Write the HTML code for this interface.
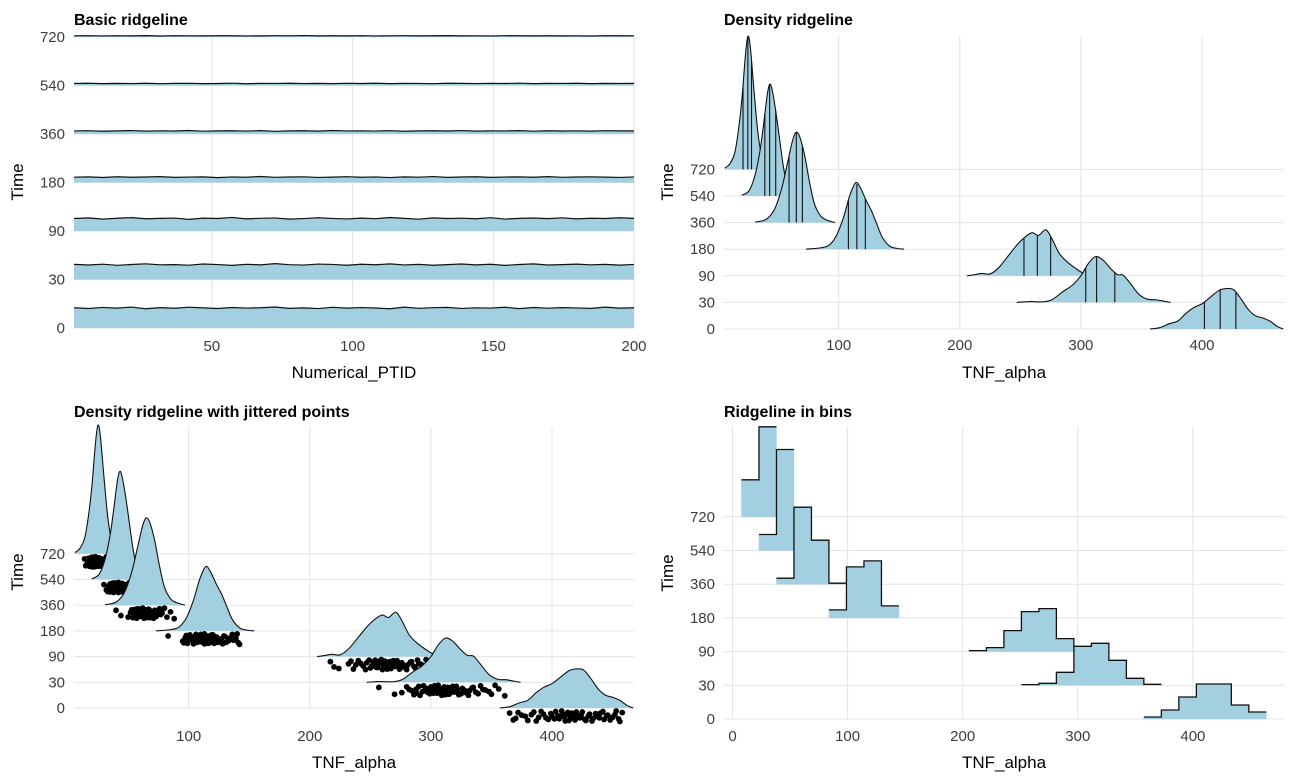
<!DOCTYPE html>
<html><head><meta charset="utf-8">
<style>
html,body{margin:0;padding:0;background:#fff;}
svg{display:block;font-family:"Liberation Sans",Arial,sans-serif;}
.tick{font-size:15px;fill:#3d3d3d;}
.ttl{font-size:16px;font-weight:bold;fill:#000;}
.axt{font-size:17px;fill:#000;}
</style></head>
<body>
<svg id="chart" width="1300" height="782" viewBox="0 0 1300 782"></svg>
<script>
// ---------- data ----------
const times = ["0","30","90","180","360","540","720"];
const ptidTicks = [50,100,150,200];
const tnfTicks = [100,200,300,400];
const tnfTicks4 = [0,100,200,300,400];
// Panel 1: TNF_alpha per patient (sampled along PTID 1..200)
const t0 = [425,410,432,418,440,405,428,415,437,422,409,431,419,426,441,412,423,408,435,417,429,420,404,438,414,427,433,411,424,419,436,407,430,416,428,421,413,439,418,425];
const t30 = [318,305,322,298,315,330,309,312,301,326,314,296,319,308,333,311,303,324,316,299,321,310,328,306,317,300,313,325,307,320,297,315,329,304,312,323,309,318,302,316];
const t90 = [262,275,250,268,281,258,266,272,245,270,263,285,255,267,274,249,261,278,264,253,271,259,283,266,248,276,262,269,257,280,251,265,273,260,277,254,268,263,279,266];
const t180 = [112,118,105,121,110,116,124,108,114,119,102,117,111,126,109,115,120,106,113,122,110,117,104,119,112,125,108,116,121,107,114,118,111,123,109,115,120,113,106,117];
const t360 = [64,70,58,66,72,61,67,63,74,59,65,69,62,71,57,66,68,60,73,64,67,62,70,58,65,69,63,72,61,66,64,71,59,68,63,67,60,70,65,66];
const t540 = [43,47,39,45,41,48,38,44,46,40,42,49,37,45,43,47,41,44,39,46,42,48,40,45,43,38,47,44,41,46,42,49,40,44,43,47,39,45,42,44];
const t720 = [25,28,22,26,24,29,21,27,25,23,28,26,22,24,27,25,30,23,26,24,28,22,25,27,23,26,29,24,25,22,27,26,23,28,24,25,21,27,26,25];
// Panels 2/3: density estimates [TNF, relative height]
const d0 = [[357,0],[365,0.05],[373,0.2],[380,0.3],[387,0.6],[393,0.8],[400,0.95],[407,1.2],[414,1.45],[420,1.52],[426,1.48],[432,1.15],[438,0.75],[444,0.5],[450,0.42],[456,0.3],[462,0.1],[467,0]];
const d30 = [[247,0],[258,0.03],[268,0.02],[276,0.1],[285,0.4],[293,0.65],[300,1.0],[306,1.45],[312,1.72],[318,1.6],[324,1.3],[330,1.05],[335,1.02],[341,0.7],[348,0.3],[355,0.12],[362,0.1],[368,0.05],[374,0]];
const d90 = [[206,0],[212,0.04],[218,0.09],[225,0.07],[232,0.3],[240,0.75],[248,1.2],[255,1.5],[260,1.62],[265,1.52],[271,1.73],[276,1.4],[282,0.85],[288,0.55],[295,0.3],[302,0.1],[310,0.02]];
const d180 = [[73,0],[85,0.05],[92,0.15],[98,0.5],[104,1.2],[109,2.0],[114,2.5],[118,2.3],[123,1.8],[127,1.45],[131,1.0],[136,0.45],[142,0.12],[148,0.03],[154,0]];
const d360 = [[31,0.02],[40,0.12],[47,0.5],[53,1.3],[58,2.3],[62,3.1],[65,3.4],[68,3.2],[72,2.5],[76,1.5],[80,0.7],[85,0.25],[90,0.1],[97,0]];
const d540 = [[20,0.03],[26,0.2],[31,0.8],[35,1.7],[38,2.7],[41,3.8],[43,4.2],[45,4.0],[48,3.2],[51,2.2],[54,1.2],[57,0.5],[61,0.15],[66,0.02]];
const d720 = [[6,0.05],[10,0.2],[14,0.6],[17,1.4],[20,2.6],[23,4.3],[25,5.0],[27,4.6],[30,3.0],[33,1.5],[36,0.6],[40,0.15],[44,0.02]];
// quartiles
const q0 = [402,415,428];
const q30 = [304,313,328];
const q90 = [253,264,275];
const q180 = [108,115,122];
const q360 = [59,65,70];
const q540 = [39,43,48];
const q720 = [21,25,28];
// Panel 3: jittered point values
const p0 = [365,370,375,380,385,389,393,397,400,403,406,409,411,413,415,417,419,421,423,425,428,431,434,437,440,443,446,450,453,456,368,372,378,383,387,391,395,399,402,405,408,410,412,414,416,418,420,422,424,427,430,433,436,439,442,445,448,452,455,458];
const p30 = [257,276,282,286,290,293,296,299,301,303,305,307,309,311,312,313,315,317,319,321,323,326,329,332,335,339,343,348,353,361,270,280,284,288,291,294,297,300,302,304,306,308,310,312,314,316,318,320,322,325,328,331,334,337,341,345,350,356,288,300];
const p90 = [217,220,232,236,240,244,247,250,252,254,256,258,260,262,263,265,267,268,270,272,274,276,278,281,284,287,290,293,296,300,224,234,238,242,246,249,251,253,255,257,259,261,263,264,266,268,269,271,273,275,277,280,283,286,289,292,295,298,264,258];
const p180 = [83,95,97,99,101,103,105,107,108,110,111,112,113,114,115,116,117,118,119,120,121,123,125,127,129,131,134,137,140,142,96,98,100,102,104,106,108,109,110,112,113,114,115,116,117,118,119,120,122,124,126,128,130,133,136,139,141,112,116,120];
const p360 = [40,44,52,54,56,57,58,59,60,61,62,63,63,64,64,65,65,66,66,67,68,69,70,71,72,73,75,77,80,88,50,53,55,56,57,58,59,60,61,62,62,63,64,65,65,66,67,67,68,69,70,71,72,74,76,78,82,85,61,66];
const p540 = [30,32,34,35,36,37,38,39,39,40,41,41,42,42,43,43,44,44,45,45,46,46,47,47,48,49,50,50,51,48,33,35,36,37,38,38,39,40,40,41,42,42,43,43,44,44,45,46,46,47,48,48,49,50,51,52,41,44,46,39];
const p720 = [14,16,17,18,19,19,20,20,21,21,22,22,22,23,23,24,24,25,25,26,26,27,27,28,28,29,30,31,32,34,15,17,18,19,20,20,21,21,22,22,23,23,23,24,24,25,25,26,26,27,28,29,30,31,33,22,24,26,20,25];
const jitter = [0.2,0.7,0.4,0.9,0.1,0.6,0.3,0.8,0.5,0.05,0.75,0.35,0.95,0.15,0.55,0.25,0.85,0.45,0.65,0.1,0.9,0.3,0.7,0.5,0.2,0.8,0.4,0.6,0.0,1.0,0.85,0.15,0.5,0.35,0.95,0.05,0.65,0.25,0.75,0.45,0.0,0.55,0.3,0.9,0.2,0.7,0.1,0.6,0.4,0.8,0.5,0.95,0.25,0.65,0.05,0.45,0.85,0.35,0.75,0.15];
// Panel 4: histogram counts, start bin index
const binStart = 7.8, binWidth = 15.2;
const h0 = [2,9,22,35,35,14,7];      const s0 = 23;
const h30 = [0.7,2,13,39,42,25,7,1]; const s30 = 16;
const h90 = [1,4,21,40,43,13,5];     const s90 = 13;
const h180 = [8,51,57,12];           const s180 = 5;
const h360 = [6,77,44,1];            const s360 = 2;
const h540 = [16,101];               const s540 = 1;
const h720 = [37,90];                const s720 = 0;

// ---------- drawing ----------
const NS = "http://www.w3.org/2000/svg";
const svg = document.getElementById('chart');
const FILL = "#a3d0e1", GRID = "#e3e3e3";
function mk(tag, attrs, parent){
  const e = document.createElementNS(NS, tag);
  for (const k in attrs) e.setAttribute(k, attrs[k]);
  (parent||svg).appendChild(e); return e;
}
function txt(s, x, y, cls, anchor, parent){
  const t = mk('text', {x:x, y:y, class:cls, 'text-anchor':anchor||'start'}, parent);
  t.textContent = s; return t;
}
function smooth(pts){
  let d = "M"+pts[0][0].toFixed(2)+","+pts[0][1].toFixed(2);
  for (let i=0;i<pts.length-1;i++){
    const p0=pts[Math.max(0,i-1)], p1=pts[i], p2=pts[i+1], p3=pts[Math.min(pts.length-1,i+2)];
    const c1x=p1[0]+(p2[0]-p0[0])/6, c1y=p1[1]+(p2[1]-p0[1])/6;
    const c2x=p2[0]-(p3[0]-p1[0])/6, c2y=p2[1]-(p3[1]-p1[1])/6;
    d += " C"+c1x.toFixed(2)+","+c1y.toFixed(2)+" "+c2x.toFixed(2)+","+c2y.toFixed(2)+" "+p2[0].toFixed(2)+","+p2[1].toFixed(2);
  }
  return d;
}
function interp(dens, v){
  for (let i=0;i<dens.length-1;i++){
    if (v>=dens[i][0] && v<=dens[i+1][0]){
      const f=(v-dens[i][0])/(dens[i+1][0]-dens[i][0]);
      return dens[i][1]+f*(dens[i+1][1]-dens[i][1]);
    }
  }
  return 0;
}
function frame(g, o){
  o.xt.forEach(v=>{
    const l = mk('line',{x1:o.x(v),x2:o.x(v),y1:o.top,y2:o.bottom,stroke:GRID,'stroke-width':1},g);
    
    
    const t = txt(String(v), o.x(v), o.tickY, 'tick', 'middle', g);
    
    
  });
  times.forEach((tm,i)=>{
    const y = o.base(i);
    const l = mk('line',{x1:o.left,x2:o.right,y1:y,y2:y,stroke:GRID,'stroke-width':1},g);
    
    
    const t = txt(tm, o.left-9, y+5, 'tick', 'end', g);
    
    
  });
  const tt = txt(o.title, o.left, o.titleY, 'ttl', 'start', g);
  
  
  const xa = txt(o.xlab, (o.left+o.right)/2, o.xlabY, 'axt', 'middle', g);
  
  
  const ya = txt('Time', 0, 0, 'axt', 'middle', g);
  ya.setAttribute('transform','translate('+(o.left-51)+','+o.ylabY+') rotate(-90)');
  
  
}

// Panel 1
(function(){
  const g = mk('g',{});  
  const o = {left:74,right:634,top:37,bottom:328,tickY:351,titleY:25,xlabY:378,ylabY:182,
    title:'Basic ridgeline', xlab:'Numerical_PTID', xt:ptidTicks};
  o.x = v => 74 + (v-1)*(634-74)/199;
  o.base = i => 328 - i*48.5;
  frame(g,o);
  const series=[t0,t30,t90,t180,t360,t540,t720];
  for (let i=series.length-1;i>=0;i--){
    const s=series[i], b=o.base(i);
    const pts=s.map((v,k)=>[o.x(1+k*199/(s.length-1)), b - v*0.0476]);
    let d="M"+pts[0][0]+","+b;
    pts.forEach(p=>d+=" L"+p[0].toFixed(2)+","+p[1].toFixed(2));
    d+=" L"+pts[pts.length-1][0]+","+b+" Z";
    const a=mk('path',{d:d,fill:FILL,stroke:'none'},g);
    
    
    const ln=mk('path',{d:"M"+pts.map(p=>p[0].toFixed(2)+","+p[1].toFixed(2)).join(" L"),fill:'none',stroke:'#111','stroke-width':1.2},g);
    
    
  }
})();

// Panels 2 & 3
function densityPanel(cfg){
  const g = mk('g',{});  
  frame(g,cfg);
  const dens=[d0,d30,d90,d180,d360,d540,d720];
  const qs=[q0,q30,q90,q180,q360,q540,q720];
  const pts=[p0,p30,p90,p180,p360,p540,p720];
  for (let i=dens.length-1;i>=0;i--){
    const b=cfg.base(i), dn=dens[i];
    const cp=dn.map(p=>[cfg.x(p[0]), b - p[1]*cfg.sp]);
    const curve=smooth(cp);
    const a=mk('path',{d:curve+" L"+cp[cp.length-1][0].toFixed(2)+","+b+" L"+cp[0][0].toFixed(2)+","+b+" Z",fill:FILL,stroke:'none'},g);
    
    
    if (cfg.quant){
      qs[i].forEach((q,k)=>{
        const l=mk('line',{x1:cfg.x(q),x2:cfg.x(q),y1:b,y2:b-interp(dn,q)*cfg.sp,stroke:'#111','stroke-width':1.1},g);
        
        
      });
    }
    const ln=mk('path',{d:curve,fill:'none',stroke:'#111','stroke-width':1.1},g);
    
    
    if (cfg.points){
      pts[i].forEach((v,k)=>{
        const c=mk('circle',{cx:cfg.x(v),cy:b+3+jitter[k%jitter.length]*10.5,r:2.9,fill:'#000'},g);
        
        
      });
    }
  }
}
densityPanel({name:'density-ridgeline-panel',left:724,right:1284,top:36,bottom:329,tickY:350,titleY:25,xlabY:378,ylabY:182,
  title:'Density ridgeline',xlab:'TNF_alpha',xt:tnfTicks,x:v=>717.6+1.211*v,base:i=>329-i*26.6,sp:26.6,quant:true,points:false});
densityPanel({name:'density-jitter-panel',left:74,right:634,top:427,bottom:708,tickY:741,titleY:417,xlabY:768,ylabY:572,
  title:'Density ridgeline with jittered points',xlab:'TNF_alpha',xt:tnfTicks,x:v=>67.6+1.211*v,base:i=>708-i*25.7,sp:25.7,quant:false,points:true});

// Panel 4
(function(){
  const g = mk('g',{});  
  const o = {left:724,right:1284,top:427,bottom:719,tickY:741,titleY:417,xlabY:768,ylabY:573,
    title:'Ridgeline in bins', xlab:'TNF_alpha', xt:tnfTicks4};
  o.x = v => 732.5 + 1.151*v;
  o.base = i => 719 - i*33.7;
  frame(g,o);
  const hs=[h0,h30,h90,h180,h360,h540,h720], ss=[s0,s30,s90,s180,s360,s540,s720];
  for (let i=hs.length-1;i>=0;i--){
    const b=o.base(i), h=hs[i];
    let d="", fillD="";
    h.forEach((c,k)=>{
      const x0=o.x(binStart+(ss[i]+k)*binWidth), x1=o.x(binStart+(ss[i]+k+1)*binWidth), y=b-c;
      d += (k===0? "M"+x0.toFixed(2)+","+y.toFixed(2) : " V"+y.toFixed(2)) + " H"+x1.toFixed(2);
      fillD += "M"+x0.toFixed(2)+","+b+" V"+y.toFixed(2)+" H"+x1.toFixed(2)+" V"+b+" Z ";
    });
    const a=mk('path',{d:fillD,fill:FILL,stroke:FILL,'stroke-width':0.5},g);
    
    
    const ln=mk('path',{d:d,fill:'none',stroke:'#111','stroke-width':1.3},g);
    
    
  }
})();
</script>
</body></html>
